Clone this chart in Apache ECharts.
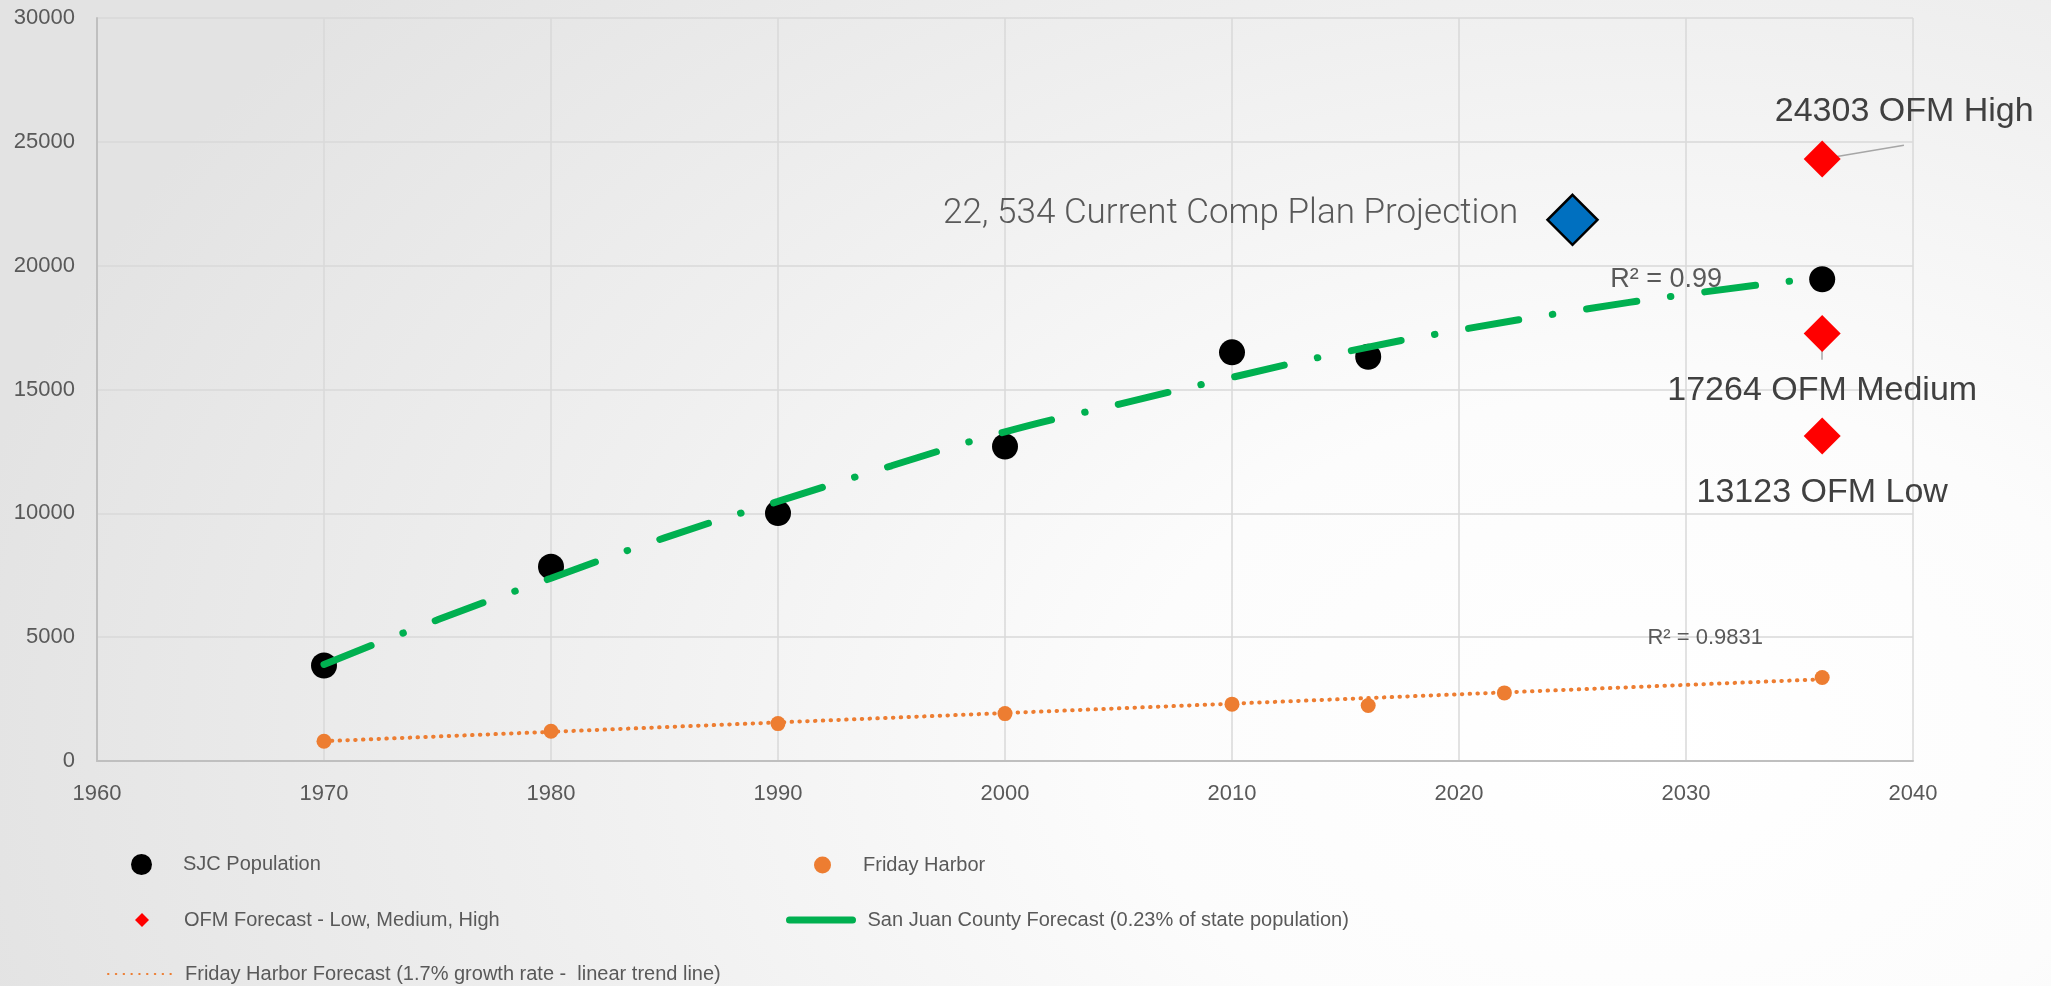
<!DOCTYPE html>
<html>
<head>
<meta charset="utf-8">
<title>San Juan County population</title>
<script src="https://cdn.jsdelivr.net/npm/echarts@6/dist/echarts.min.js"></script>
<style>
  html, body { margin: 0; padding: 0; width: 100%; height: 100%; overflow: hidden; }
  body {
    background: radial-gradient(ellipse 1700px 1150px at 80% 75%, #ffffff 0%, #fcfcfc 30%, #efefef 65%, #e3e3e3 100%);
  }
  #chart { width: 2051px; height: 986px; }
</style>
</head>
<body>
<div id="chart"></div>
<script>
// census points
const sjcYears = [1970, 1980, 1990, 2000, 2010, 2016, 2036];
const sjcPopulation = [3856, 7848, 10010, 12700, 16500, 16320, 19450];
const fhYears = [1970, 1980, 1990, 2000, 2010, 2016, 2022, 2036];
const fhPopulation = [800, 1200, 1510, 1915, 2295, 2240, 2750, 3370];

// OFM forecast for 2036
const ofmYears = [2036, 2036, 2036];
const ofmValues = [13123, 17264, 24303];
const ofmLabels = ['13123 OFM Low', '17264 OFM Medium', '24303 OFM High'];

// comp plan projection
const compYear = [2025];
const compValue = [21850];
const compLabel = '22, 534 Current Comp Plan Projection';

// trend lines
const sjcTrendYears = [1970, 1975, 1980, 1985, 1990, 1995, 2000, 2005, 2010, 2015, 2020, 2025, 2030, 2035];
const sjcTrend = [3900, 5700, 7380, 9010, 10480, 11920, 13290, 14400, 15490, 16520, 17400, 18160, 18840, 19420];
const fhTrendYears = [1970, 2036];
const fhTrend = [800, 3300];

const sjcR2 = 'R² = 0.99';
const fhR2 = 'R² = 0.9831';

// axes
const xMin = 1960, xMax = 2040, xStep = 10;
const yMin = 0, yMax = 30000, yStep = 5000;

const FONT = "'Liberation Sans', Arial, sans-serif";
const TEXT = '#595959';
const GREEN = '#00B050';
const ORANGE = '#ED7D31';

const zip = (xs, ys) => xs.map((x, i) => [x, ys[i]]);

const chart = echarts.init(document.getElementById('chart'), null, { renderer: 'canvas' });

const legendText = (pad) => ({ color: TEXT, fontSize: 20, fontFamily: FONT, padding: [0, 0, 0, pad] });
const legendBase = { orient: 'horizontal', selectedMode: false, padding: 0 };

const option = {
  backgroundColor: 'transparent',
  animation: false,
  grid: { left: 97, right: 138, top: 18, bottom: 225, containLabel: false },
  xAxis: {
    type: 'value', min: xMin, max: xMax, interval: xStep,
    axisLine: { show: true, lineStyle: { color: '#bfbfbf', width: 2 } },
    axisTick: { show: false },
    axisLabel: { color: TEXT, fontSize: 22, fontFamily: FONT, margin: 22, formatter: v => String(v) },
    splitLine: { show: true, lineStyle: { color: '#d9d9d9', width: 1.5 } }
  },
  yAxis: {
    type: 'value', min: yMin, max: yMax, interval: yStep,
    axisLine: { show: true, lineStyle: { color: '#bfbfbf', width: 2 } },
    axisTick: { show: false },
    axisLabel: { color: TEXT, fontSize: 22, fontFamily: FONT, margin: 22, formatter: v => String(v) },
    splitLine: { show: true, lineStyle: { color: '#d9d9d9', width: 1.5 } }
  },
  legend: [
    { ...legendBase, left: 131, top: 854, icon: 'circle', itemWidth: 21, itemHeight: 21,
      textStyle: legendText(26), data: ['SJC Population'] },
    { ...legendBase, left: 814, top: 855, icon: 'circle', itemWidth: 17, itemHeight: 17,
      textStyle: legendText(27), data: ['Friday Harbor'] },
    { ...legendBase, left: 135, top: 910, icon: 'diamond', itemWidth: 14, itemHeight: 14,
      textStyle: legendText(30), data: ['OFM Forecast - Low, Medium, High'] },
    { ...legendBase, left: 786, top: 910, itemWidth: 63, itemHeight: 20,
      lineStyle: { type: 'solid', width: 7, cap: 'round' }, itemStyle: { opacity: 0 },
      textStyle: legendText(10), data: ['San Juan County Forecast (0.23% of state population)'] },
    { ...legendBase, left: 107, top: 964, itemWidth: 63, itemHeight: 20,
      itemStyle: { opacity: 0 },
      textStyle: legendText(9), data: ['Friday Harbor Forecast (1.7% growth rate -  linear trend line)'] }
  ],
  series: [
    {
      name: 'SJC Population',
      type: 'scatter',
      z: 2,
      symbol: 'circle',
      symbolSize: 26,
      itemStyle: { color: '#000000', opacity: 1 },
      data: zip(sjcYears, sjcPopulation).map((d, i, arr) => i === arr.length - 1
        ? { value: d, label: { show: true, formatter: sjcR2, position: 'inside', offset: [-156, 0],
            color: TEXT, fontSize: 27, fontFamily: FONT } }
        : d)
    },
    {
      name: 'Friday Harbor',
      type: 'scatter',
      z: 4,
      symbol: 'circle',
      symbolSize: 15,
      itemStyle: { color: ORANGE, opacity: 1 },
      data: zip(fhYears, fhPopulation).map((d, i, arr) => i === arr.length - 1
        ? { value: d, label: { show: true, formatter: fhR2, position: 'inside', offset: [-117, -40],
            color: TEXT, fontSize: 22, fontFamily: FONT } }
        : d)
    },
    {
      name: 'San Juan County Forecast (0.23% of state population)',
      type: 'line',
      z: 3,
      symbol: 'none',
      smooth: true,
      lineStyle: { color: GREEN, width: 7, type: [51, 34, 0.5, 34], cap: 'round' },
      itemStyle: { color: GREEN },
      data: zip(sjcTrendYears, sjcTrend)
    },
    {
      name: 'Friday Harbor Forecast (1.7% growth rate -  linear trend line)',
      type: 'line',
      z: 3,
      symbol: 'none',
      lineStyle: { color: ORANGE, width: 4, type: [0.5, 7.3], cap: 'round' },
      itemStyle: { color: ORANGE },
      data: zip(fhTrendYears, fhTrend)
    },
    {
      name: 'OFM Forecast - Low, Medium, High',
      type: 'scatter',
      z: 5,
      symbol: 'diamond',
      symbolSize: 37,
      itemStyle: { color: '#FF0000', opacity: 1 },
      label: {
        show: true,
        position: 'inside',
        color: '#404040',
        fontSize: 34,
        fontFamily: FONT,
        formatter: p => ofmLabels[p.dataIndex]
      },
      data: zip(ofmYears, ofmValues).map((d, i) => ({
        value: d,
        label: { offset: i === 2 ? [82, -47] : [0, 57] }
      })),
      markLine: {
        silent: true,
        symbol: 'none',
        label: { show: false },
        lineStyle: { color: '#a6a6a6', width: 1.5, type: 'solid', opacity: 1 },
        data: [
          [{ coord: [ofmYears[2], ofmValues[2]] }, { coord: [2039.6, 24860] }],
          [{ coord: [ofmYears[1], ofmValues[1]] }, { coord: [2036, 16200] }]
        ]
      }
    },
    {
      name: 'Comp Plan',
      type: 'scatter',
      z: 5,
      symbol: 'diamond',
      symbolSize: 50,
      itemStyle: { color: '#0070C0', borderColor: '#000000', borderWidth: 2.5, opacity: 1 },
      label: {
        show: true,
        position: 'left',
        distance: 28,
        offset: [0, -6],
        formatter: compLabel,
        color: '#595959',
        fontSize: 35,
        fontWeight: 300,
        fontFamily: "Roboto, 'Open Sans', sans-serif"
      },
      data: zip(compYear, compValue)
    }
  ]
};

chart.setOption(option);
</script>
</body>
</html>
